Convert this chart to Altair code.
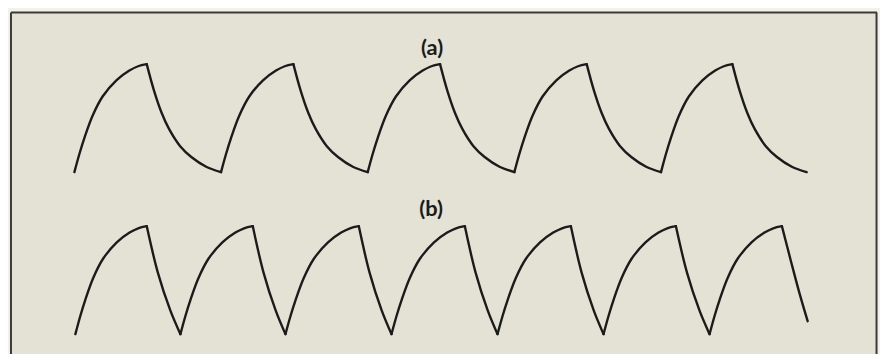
import altair as alt
import pandas as pd

# ---- values (x: time in px-scaled units from the frame's left edge;
#      y: level in units of one pulse amplitude, trace (b) baseline = 0, trace (a) baseline = 1.5)
A_BASE = 1.5
B_BASE = 0.0

# trace (a): start of each rise, its peak, and the end of the following fall
a_rise_start = [64, 212, 360, 508, 656]
a_peak = [137, 285, 433, 581, 728]
a_fall_end = [212, 360, 508, 656, 803]

# trace (b)
b_rise_start = [65, 171, 277, 384, 491, 598, 705]
b_peak = [137, 244, 351, 458, 565, 671, 778]
b_fall_end = [171, 277, 384, 491, 598, 705]
# last, unfinished fall of trace (b)
b_tail_t = [778, 787, 796, 804]
b_tail_drop = [0.0, 0.32, 0.63, 0.88]

# common charging curve (fraction of rise time -> fraction of amplitude)
rise_t = [0.0, 0.07, 0.14, 0.25, 0.39, 0.58, 0.76, 0.88, 1.0]
rise_v = [0.0, 0.17, 0.32, 0.52, 0.70, 0.85, 0.94, 0.98, 1.0]
# discharge curve of (a) (fraction of fall time -> fraction of amplitude dropped)
fall_a_t = [0.0, 0.1, 0.2, 0.3, 0.45, 0.6, 0.8, 1.0]
fall_a_v = [0.0, 0.25, 0.45, 0.60, 0.76, 0.86, 0.95, 1.0]
# discharge curve of (b)
fall_b_t = [0.0, 0.33, 0.7, 1.0]
fall_b_v = [0.0, 0.43, 0.78, 1.0]

labels = ["(a)", "(b)"]
label_t = [425, 424]
label_y = [2.65, 1.16]

# ---- build the table
rows = []
seg = 0


def add_rise(t0, t1, base):
    global seg
    for ft, fv in zip(rise_t, rise_v):
        rows.append({"seg": seg, "t": t0 + ft * (t1 - t0), "y": base + fv})
    seg += 1


def add_fall(t0, t1, base, ft_list, fv_list):
    global seg
    for ft, fv in zip(ft_list, fv_list):
        rows.append({"seg": seg, "t": t0 + ft * (t1 - t0), "y": base + 1.0 - fv})
    seg += 1


for s, p, e in zip(a_rise_start, a_peak, a_fall_end):
    add_rise(s, p, A_BASE)
    add_fall(p, e, A_BASE, fall_a_t, fall_a_v)

for i, (s, p) in enumerate(zip(b_rise_start, b_peak)):
    add_rise(s, p, B_BASE)
    if i < len(b_fall_end):
        add_fall(p, b_fall_end[i], B_BASE, fall_b_t, fall_b_v)
    else:
        for tt, dv in zip(b_tail_t, b_tail_drop):
            rows.append({"seg": seg, "t": tt, "y": B_BASE + 1.0 - dv})
        seg += 1

df = pd.DataFrame(rows)
df_lab = pd.DataFrame({"label": labels, "t": label_t, "y": label_y})
one = pd.DataFrame({"k": [0]})

W, H = 874, 346
xs = alt.Scale(domain=[0, W], nice=False, zero=False)
ys = alt.Scale(domain=[-0.197, 2.977], nice=False, zero=False)

lines = alt.Chart(df).mark_line(
    interpolate="catmull-rom", color="#1b1b1b", strokeWidth=2.4,
    strokeCap="round", strokeJoin="round"
).encode(
    x=alt.X("t:Q", scale=xs, axis=None),
    y=alt.Y("y:Q", scale=ys, axis=None),
    detail="seg:N",
)

text = alt.Chart(df_lab).mark_text(
    font="Lato", fontSize=22, fontWeight="bold", color="#1b1b1b",
    align="center", baseline="middle"
).encode(
    x=alt.X("t:Q", scale=xs, axis=None),
    y=alt.Y("y:Q", scale=ys, axis=None),
    text="label:N",
)

frame_col = "#3a3a36"
left = alt.Chart(one).mark_rule(color=frame_col, strokeWidth=2).encode(
    x=alt.value(0), y=alt.value(0), y2=alt.value(H))
top = alt.Chart(one).mark_rule(color=frame_col, strokeWidth=2).encode(
    x=alt.value(0), x2=alt.value(W), y=alt.value(0))
right = alt.Chart(one).mark_rule(color=frame_col, strokeWidth=2).encode(
    x=alt.value(W - 0.5), y=alt.value(0), y2=alt.value(H))

chart = alt.layer(lines, text, left, top, right).properties(
    width=W, height=H,
    background="#f2f1ea",
    padding={"left": 2, "top": 2, "right": 2, "bottom": 0},
).configure_view(fill="#e3e2d5", strokeOpacity=0)

chart.save("out.html", embed_options={"renderer": "svg", "actions": False})
